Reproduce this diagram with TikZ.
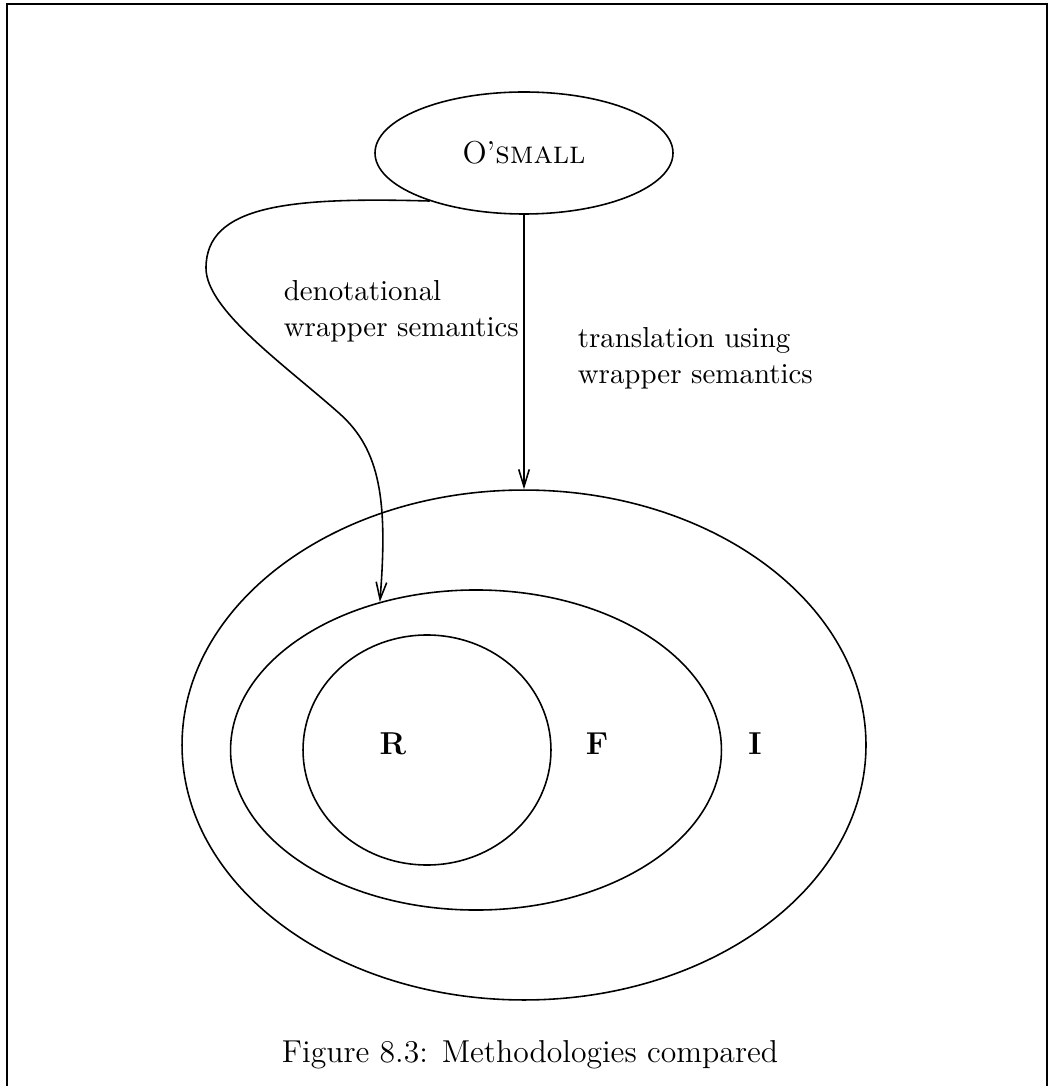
\documentclass[tikz,border=0pt,12pt]{standalone}
\usepackage{tikz}
\usetikzlibrary{arrows.meta,shapes.geometric}

\begin{document}
\begin{tikzpicture}[x=0.3787pt, y=-0.3787pt, >={Straight Barb[length=6.5pt,width=4pt]}, line width=0.6pt]
\tikzstyle{set}=[draw, ellipse, inner sep=0pt]
\tikzstyle{lbl}=[inner sep=0pt, align=left, font=\small]
\useasboundingbox (0,0) rectangle (1049,1086);
% frame of the figure
\draw (7,1086) -- (7,4) -- (1047,4) -- (1047,1086);
\node[set, minimum width=112.85pt, minimum height=46.2pt] (small) at (524,153) {O'\textsc{small}};
\node[set, minimum width=259pt, minimum height=193.1pt] (I) at (524,745) {};
\node[set, minimum width=185.9pt, minimum height=121.2pt] (F) at (476,750) {};
\node[set, minimum width=93.9pt, minimum height=87.1pt] (R) at (427,750) {};
\node (rname) at (393,744) {\textbf{R}};
\node (fname) at (597,744) {\textbf{F}};
\node (iname) at (755,744) {\textbf{I}};
\node[lbl, anchor=west] (deno) at (283,311) {denotational\\wrapper semantics};
\node[lbl, anchor=west] (trans) at (577,358) {translation using\\wrapper semantics};
\draw[->] (small.south) -- (I.north);
\draw[->] (small.207) .. controls (290,197) and (206,205) .. (206,268)
  .. controls (206,310) and (285,365) .. (340,414)
  .. controls (380,450) and (388,500) .. (F.123);
\node (caption) at (530,1055) {Figure 8.3: Methodologies compared};
\end{tikzpicture}
\end{document}
